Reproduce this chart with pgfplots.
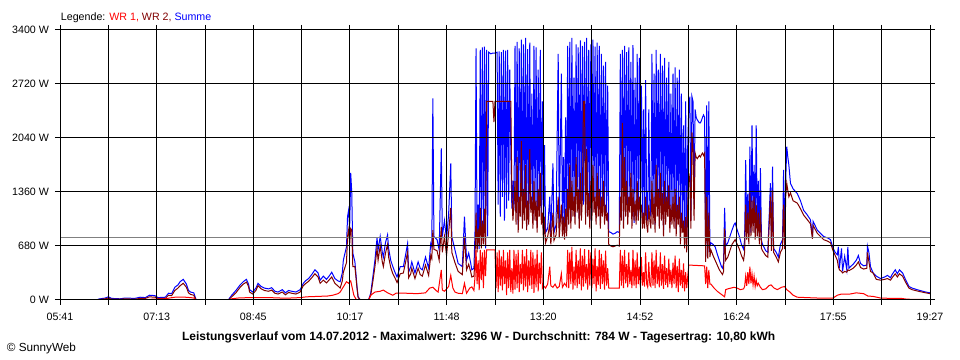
\documentclass[border=0pt]{standalone}
\usepackage{pgfplots}
\pgfplotsset{compat=1.18}
\usepackage{pgfplotstable}
\usepackage{fontspec}
\setmainfont{Liberation Sans}
\definecolor{wrA}{RGB}{255,0,0}
\definecolor{wrB}{RGB}{128,0,0}
\definecolor{summe}{RGB}{0,0,255}
\definecolor{avg}{RGB}{128,128,128}

% Summe (blue): minute of day, W
\pgfplotstableread{
t w
377 10
384 25
387 40
390 20
398 15
403 25
412 20
417 35
422 30
426 60
431 55
434 30
441 35
444 85
447 80
450 160
453 190
455 230
458 260
461 200
463 120
465 100
468 90
470 10
472 0
479 5
501 5
504 60
508 120
512 190
515 230
518 260
520 200
521 130
524 100
527 150
529 210
532 170
535 150
539 140
542 155
545 110
548 100
552 130
555 90
558 120
561 110
565 100
569 130
572 210
574 240
577 270
580 320
583 380
586 340
588 250
591 300
594 260
597 310
599 350
602 270
605 240
607 230
609 340
610 500
613 670
614 1050
615 1130
616 900
617 1600
618 1350
619 590
621 480
623 165
624 40
626 5
634 5
636 85
638 290
640 500
642 780
643 630
645 800
647 600
648 540
650 720
652 820
653 650
655 500
657 420
659 350
661 290
664 420
667 420
669 560
671 710
672 350
674 420
675 480
678 340
681 480
683 400
685 380
688 540
691 400
693 710
694 670
695 2540
696 800
699 760
701 630
703 1910
704 800
706 1000
708 760
710 1090
712 1720
713 800
716 630
719 460
723 420
725 1050
727 500
729 590
731 460
732 380
734 400
735 840
736 3170
737 700
738 1200
739 640
740 3150
741 700
742 3180
743 900
744 3190
745 650
746 3150
747 800
748 3120
750 3100
752 3110
754 3110
756 3120
757 1200
758 3130
759 1050
760 3120
761 1300
762 3150
763 1000
764 3140
765 1150
766 3150
767 1250
768 2900
769 1900
770 1150
771 1500
772 1130
773 3200
774 1100
775 3250
776 950
777 3170
778 1200
779 3280
780 1000
781 3220
782 1150
783 3300
784 920
785 3160
786 1050
787 3240
788 1220
789 2600
790 1000
791 3200
792 1100
793 3180
794 950
795 2900
796 1200
797 3150
798 1050
799 2500
800 880
801 1950
802 850
804 900
806 1300
807 820
809 1720
810 850
812 950
814 3100
815 900
817 2850
818 950
819 1800
820 850
821 2300
822 900
823 3200
824 1100
825 3250
826 1000
827 3300
828 1150
829 2800
830 1050
831 3220
832 1260
833 3180
834 1000
835 3270
836 1100
837 3200
838 1200
839 3250
840 1050
841 3300
842 1150
843 3150
844 1000
845 3220
846 1100
847 3280
848 1250
849 3190
850 1050
851 3240
852 1150
853 3200
854 1000
855 3100
856 1200
857 2950
858 1050
859 3000
860 1100
861 2700
862 860
864 850
866 830
868 840
870 860
872 850
873 3100
874 1100
875 3150
876 1000
877 3200
878 1250
879 3120
880 1050
881 3180
882 1300
883 3000
884 1100
885 3210
886 970
887 2800
888 1150
889 3100
890 1050
891 3050
892 1200
893 2700
894 1000
895 2400
896 1000
897 2770
898 1100
899 1000
900 2400
901 1150
902 1050
903 3100
904 1100
905 2850
906 950
907 3150
908 1200
909 2900
910 1000
911 3100
912 1150
913 2950
914 880
915 3050
916 1100
917 2800
918 1220
919 3000
920 950
921 2600
922 1100
923 2850
924 1000
925 2930
926 900
927 2800
928 1050
929 2900
930 850
931 2600
932 950
933 2200
934 780
935 2500
936 720
937 1950
938 2430
939 2560
940 1000
941 2560
942 2500
943 1200
944 2400
945 2300
946 2270
947 2250
948 2230
949 2230
950 2260
951 2300
952 2330
953 2300
954 540
955 2450
956 600
957 2500
958 680
959 720
961 700
963 670
965 580
967 500
969 420
970 400
971 460
972 1160
973 680
975 720
977 800
979 880
981 950
982 970
984 880
986 800
988 700
990 640
991 760
992 1760
993 900
994 1340
995 820
996 1930
997 850
998 2200
999 950
1000 1700
1001 850
1002 2200
1003 880
1004 1500
1005 800
1006 1660
1007 750
1008 700
1011 620
1013 600
1015.5 1470
1016.5 700
1017.5 1680
1018.5 650
1021 600
1023 540
1025 700
1027 760
1028 1640
1029 700
1030 1500
1031 1930
1032 1800
1033 1700
1034.5 1470
1037 1400
1041 1340
1044 1250
1047 1130
1050 1080
1053.5 1010
1055.4 800
1056 990
1060 880
1063 840
1066 800
1070 780
1072.5 760
1075 650
1077 600
1079 570
1080 670
1081 400
1083 650
1084 360
1086 550
1088 380
1089 670
1090 400
1091.5 420
1094 450
1097 500
1099 560
1101 460
1104 430
1107 440
1107.6 680
1109 600
1110.5 420
1113 340
1116 300
1120 270
1124 290
1126.6 310
1129.5 280
1131 320
1134 380
1136 330
1138 380
1141 340
1144 250
1147 170
1150 150
1156 125
1163 100
1167 90
}\summe

% WR 2 (dark red)
\pgfplotstableread{
t w
377 5
384 15
387 25
390 10
398 10
403 15
412 10
417 20
422 20
426 40
431 35
434 20
441 20
444 60
447 55
450 120
453 150
455 180
458 210
461 160
463 90
465 70
468 60
470 5
472 0
479 0
501 0
504 40
508 90
512 160
515 200
518 225
520 170
521 100
524 75
527 120
529 180
532 140
535 120
539 110
542 125
545 85
548 75
552 100
555 65
558 95
561 85
565 75
569 100
572 180
574 205
577 235
580 280
583 330
586 290
588 210
591 250
594 215
597 260
599 290
602 210
605 175
607 150
609 240
610 350
613 470
614 800
615 880
616 700
617 900
618 880
619 420
621 420
623 150
624 35
626 0
634 0
636 60
638 230
640 420
642 650
643 500
645 680
647 480
648 420
650 590
652 700
653 540
655 410
657 330
659 280
661 220
664 330
667 340
669 470
671 600
672 280
674 330
675 400
678 270
681 400
683 320
685 300
688 440
691 310
693 560
694 520
695 880
696 640
699 620
701 500
703 920
704 600
706 800
708 560
710 850
712 1160
713 600
716 470
719 360
723 320
725 800
727 380
729 450
731 350
732 290
734 300
735 500
736 1100
737 600
738 900
739 680
740 1160
741 650
742 1000
743 700
744 1150
745 680
746 2500
752 2500
753 2240
754 2500
769 2500
770 1400
771 1000
772 1200
773 1500
774 950
775 1800
776 850
777 1300
778 1050
779 2000
780 900
781 1400
782 1000
783 1700
784 880
785 1250
786 950
787 1900
788 1100
789 1300
790 900
791 1500
792 1000
793 1250
794 850
795 1400
796 1050
797 1600
798 950
799 1100
800 750
801 1050
802 720
804 800
806 950
807 700
809 1100
810 750
812 820
814 1300
815 780
817 1200
818 800
819 1050
820 760
821 1150
822 800
823 1400
824 950
825 1700
826 900
827 1500
828 1050
829 1300
830 950
831 1800
832 1100
833 1400
834 900
835 1600
836 1000
837 1300
838 2500
839 2500
840 950
841 1900
842 1050
843 1350
844 900
845 1500
846 1000
847 1700
848 1100
849 1300
850 950
851 1600
852 1050
853 1400
854 900
855 1300
856 1050
857 1500
858 950
859 1200
860 1000
861 1100
862 700
864 680
866 670
868 680
870 690
872 680
873 1300
874 1000
875 2230
876 900
877 1800
878 1050
879 1500
880 950
881 1300
882 1100
883 1600
884 900
885 1400
886 1000
887 1250
888 950
889 1500
890 1000
891 1300
892 1100
893 1200
894 900
895 1100
896 900
897 1300
898 950
899 850
900 1200
901 1000
902 900
903 1500
904 950
905 1300
906 850
907 1700
908 1050
909 1400
910 900
911 1600
912 1000
913 1350
914 800
915 1500
916 950
917 1300
918 1050
919 1450
920 850
921 1200
922 950
923 1300
924 900
925 1400
926 800
927 1200
928 950
929 1300
930 700
931 1100
932 850
933 1000
934 650
935 1050
936 600
937 1200
938 1600
939 1500
940 900
941 2110
942 1900
943 1000
944 1850
945 1800
946 1780
947 1800
948 1820
949 1800
950 1830
951 1850
952 1820
953 1850
954 480
955 1300
956 520
957 1100
958 540
959 630
961 560
963 500
965 440
967 380
969 340
970 320
971 360
972 900
973 500
975 540
977 620
979 700
981 740
982 760
984 700
986 640
988 560
990 500
991 600
992 1200
993 760
994 1100
995 700
996 1350
997 800
998 1250
999 850
1000 1300
1001 760
1002 1200
1003 800
1004 1100
1005 700
1006 1130
1007 650
1008 620
1011 560
1013 540
1015.5 1300
1016.5 620
1017.5 1380
1018.5 600
1021 540
1023 480
1025 600
1027 650
1028 1200
1029 640
1030 1300
1031 1470
1032 1380
1033 1300
1034.5 1350
1037 1250
1041 1220
1044 1150
1047 1070
1050 1020
1053.5 960
1055.4 770
1056 940
1060 840
1063 800
1066 760
1070 740
1072.5 720
1075 620
1077 560
1079 500
1080 420
1081 380
1083 360
1084 340
1086 360
1088 350
1089 380
1090 370
1091.5 380
1094 400
1097 440
1099 480
1101 410
1104 390
1107 400
1107.6 600
1109 480
1110.5 360
1113 340
1116 260
1120 250
1124 260
1126.6 270
1129.5 250
1131 280
1134 330
1136 290
1138 330
1141 300
1144 220
1147 150
1150 130
1156 110
1163 90
1167 80
}\wrB

% WR 1 (red)
\pgfplotstableread{
t w
377 3
390 5
410 5
430 10
441 15
445 25
450 35
455 35
460 35
465 30
468 25
470 3
472 0
501 0
504 15
510 25
520 30
530 30
540 30
550 25
560 25
569 30
575 40
585 45
595 50
600 60
605 80
607 100
610 165
613 230
615 210
617 240
618 180
620 60
622 10
624 0
634 0
636 60
640 100
645 110
648 125
652 90
657 60
660 85
670 85
680 80
688 90
692 150
695 160
698 120
700 100
703 380
704 125
706 110
710 170
712 310
714 150
716 100
719 85
723 80
725 210
727 85
730 150
732 165
734 120
735 290
736 630
737 200
738 500
739 125
740 630
741 250
742 600
743 150
744 630
745 300
746 630
754 630
755 150
756 600
757 100
758 630
759 180
760 550
761 120
762 630
763 200
764 500
765 60
766 600
767 150
768 630
769 100
770 400
771 80
772 630
773 130
774 580
775 150
776 630
777 100
778 450
779 200
780 630
781 120
782 550
783 170
784 640
785 100
786 500
787 180
788 630
789 140
790 600
791 90
792 520
793 160
794 630
795 110
796 470
797 200
798 600
799 150
800 180
802 150
804 200
806 420
807 180
809 160
811 200
813 150
815 170
817 330
818 160
820 210
822 170
823 630
824 150
825 600
826 200
827 670
828 130
829 420
830 180
831 630
832 150
833 500
834 200
835 650
836 120
837 560
838 170
839 640
840 210
841 450
842 130
843 630
844 180
845 600
846 150
847 520
848 200
849 650
850 110
851 430
852 190
853 630
854 140
855 580
856 200
857 500
858 130
859 620
860 180
861 400
862 150
872 150
873 630
874 180
875 560
876 150
877 630
878 210
879 450
880 160
881 600
882 200
883 380
884 150
885 630
886 180
887 500
888 150
889 600
890 200
891 420
892 160
893 540
894 180
895 350
896 170
897 600
898 200
899 160
900 480
901 190
902 170
903 600
904 180
905 500
906 150
907 630
908 200
909 420
910 160
911 600
912 180
913 450
914 140
915 560
916 190
917 400
918 160
919 520
920 200
921 380
922 150
923 470
924 200
925 560
926 150
927 430
928 100
929 520
930 180
931 380
932 150
933 460
934 110
935 350
936 150
937 300
938 440
953 430
954 200
955 420
956 150
957 380
958 200
959 200
962 150
965 110
968 80
971 50
972 40
973 130
975 140
978 150
981 160
984 150
987 130
990 140
991 170
992 300
993 180
994 350
995 200
996 420
997 210
998 330
999 190
1000 300
1001 170
1002 250
1003 180
1004 210
1006 160
1008 130
1011 140
1014 180
1016 190
1019 150
1022 130
1026 160
1029 170
1031 130
1034 100
1037 60
1041 35
1050 30
1060 25
1075 25
1079 60
1083 75
1091 75
1097 90
1104 80
1108 50
1113 45
1120 25
1130 20
1140 20
1145 10
1167 5
}\wrA

\begin{document}
\begin{tikzpicture}
\useasboundingbox (0,0) rectangle (720pt,270pt);
\begin{axis}[
  at={(45pt,45pt)}, anchor=south west,
  scale only axis, width=652.5pt, height=202.5pt,
  xmin=341, xmax=1167, ymin=0, ymax=3400,
  xtick={341,386.89,432.78,478.67,524.56,570.44,616.33,662.22,708.11,754,799.89,845.78,891.67,937.56,983.44,1029.33,1075.22,1121.11,1167},
  xticklabels={05:41,,07:13,,08:45,,10:17,,11:48,,13:20,,14:52,,16:24,,17:55,,19:27},
  ytick={0,680,1360,2040,2720,3400},
  yticklabels={0 W,680 W,1360 W,2040 W,2720 W,3400 W},
  /pgf/number format/assume math mode=true,
  grid=major,
  grid style={black, line width=0.75pt},
  axis line style={black, line width=0.75pt},
  tick style={black, line width=0.75pt},
  tick align=outside, major tick length=3.75pt,
  axis on top,
  tick label style={font=\fontsize{8}{10}\selectfont},
  xticklabel style={yshift=-2.5pt},
  yticklabel style={xshift=-1pt},
]
\addplot[summe, line width=0.75pt, no markers] table[x=t,y=w] {\summe};
\addplot[wrB, line width=0.75pt, no markers] table[x=t,y=w] {\wrB};
\addplot[wrA, line width=0.75pt, no markers] table[x=t,y=w] {\wrA};
\addplot[avg, line width=0.75pt, no markers] coordinates {(341,784) (1167,784)};
\end{axis}
\node[anchor=west, inner sep=0pt, font=\fontsize{8}{10}\selectfont] at (45.5pt,257pt)
  {Legende: \textcolor{wrA}{WR 1,} \textcolor{wrB}{WR 2,} \textcolor{summe}{Summe}};
\node[inner sep=0pt, font=\fontsize{9}{11}\selectfont\bfseries] at (359pt,17.25pt)
  {Leistungsverlauf vom 14.07.2012 - Maximalwert: 3296 W - Durchschnitt: 784 W - Tagesertrag: 10,80 kWh};
\node[anchor=west, inner sep=0pt, font=\fontsize{8.8}{10}\selectfont] at (5pt,9pt) {© SunnyWeb};
\end{tikzpicture}
\end{document}
